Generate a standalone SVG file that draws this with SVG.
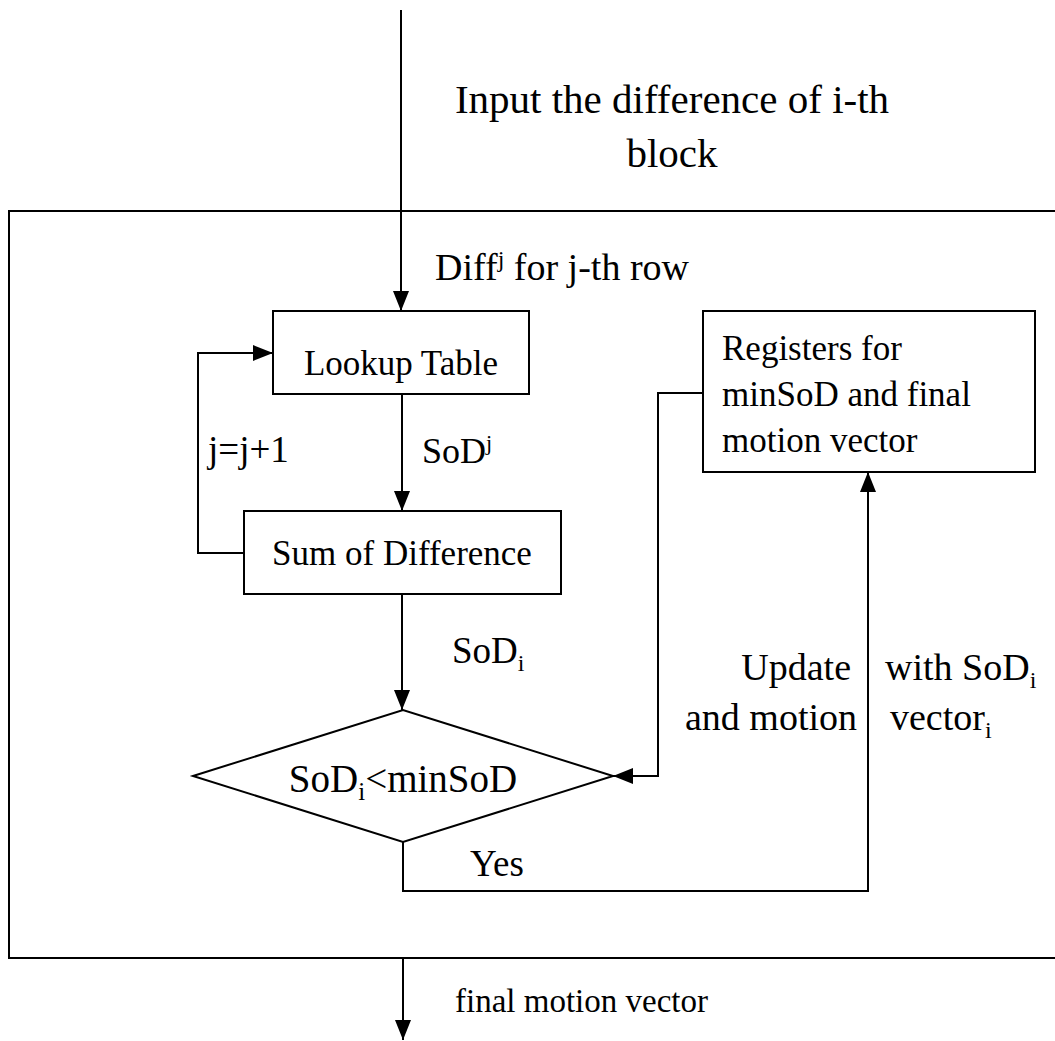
<svg xmlns="http://www.w3.org/2000/svg" width="1055" height="1041" viewBox="0 0 1055 1041">
  <style>
    text { font-family: "Liberation Serif", "Times New Roman", serif; fill: #000; }
    .box { fill: none; stroke: #000; stroke-width: 2; }
    .wire { fill: none; stroke: #000; stroke-width: 2; }
  </style>
  <defs>
    <marker id="arrow" markerUnits="userSpaceOnUse" markerWidth="22" markerHeight="20" refX="20" refY="10" orient="auto">
      <path d="M0,2 L20,10 L0,18 Z" fill="#000"/>
    </marker>
  </defs>
  <rect width="1055" height="1041" fill="#fff"/>

  <!-- enclosing processing unit (runs past the right edge) -->
  <g id="unit">
    <rect class="box" x="9" y="211" width="1060" height="747"/>
  </g>

  <g id="lookup">
    <rect class="box" x="273" y="311" width="256" height="83"/>
    <text x="401" y="375" font-size="35" text-anchor="middle">Lookup Table</text>
  </g>

  <g id="sum">
    <rect class="box" x="244" y="511" width="317" height="83"/>
    <text x="402" y="565" font-size="35" text-anchor="middle">Sum of Difference</text>
  </g>

  <g id="registers">
    <rect class="box" x="703" y="311" width="332" height="161"/>
    <text x="722" y="360" font-size="35">Registers for</text>
    <text x="722" y="406" font-size="35">minSoD and final</text>
    <text x="722" y="452" font-size="35">motion vector</text>
  </g>

  <g id="compare">
    <polygon class="box" points="193,776 403,710 613,776 403,842"/>
    <text x="403" y="792" font-size="39" text-anchor="middle">SoD<tspan font-size="25" dy="8">i</tspan><tspan dy="-8">&lt;minSoD</tspan></text>
  </g>

  <g id="connectors">
    <line class="wire" x1="401" y1="10" x2="401" y2="311" marker-end="url(#arrow)"/>
    <line class="wire" x1="402" y1="394" x2="402" y2="511" marker-end="url(#arrow)"/>
    <polyline class="wire" points="244,553 198,553 198,353 273,353" marker-end="url(#arrow)"/>
    <line class="wire" x1="402" y1="594" x2="402" y2="710" marker-end="url(#arrow)"/>
    <polyline class="wire" points="703,393 658,393 658,776 613,776" marker-end="url(#arrow)"/>
    <polyline class="wire" points="403,842 403,891 868,891 868,472" marker-end="url(#arrow)"/>
    <line class="wire" x1="403" y1="958" x2="403" y2="1040" marker-end="url(#arrow)"/>
  </g>

  <g id="labels">
    <text x="672" y="113" font-size="41" text-anchor="middle">Input the difference of i-th</text>
    <text x="672" y="167" font-size="41" text-anchor="middle">block</text>
    <text x="435" y="280" font-size="38">Diff<tspan font-size="24" dy="-13">j</tspan><tspan dy="13"> for j-th row</tspan></text>
    <text x="422" y="463" font-size="36">SoD<tspan font-size="22" dy="-13">j</tspan></text>
    <text x="208" y="462" font-size="37">j=j+1</text>
    <text x="452" y="663" font-size="37">SoD<tspan font-size="24" dy="8">i</tspan></text>
    <text x="851" y="680" font-size="38" text-anchor="end">Update</text>
    <text x="857" y="730" font-size="38" text-anchor="end">and motion</text>
    <text x="885" y="680" font-size="38">with SoD<tspan font-size="24" dy="8">i</tspan></text>
    <text x="890" y="730" font-size="38">vector<tspan font-size="24" dy="8">i</tspan></text>
    <text x="470" y="876" font-size="37">Yes</text>
    <text x="455" y="1012" font-size="33">final motion vector</text>
  </g>
</svg>
